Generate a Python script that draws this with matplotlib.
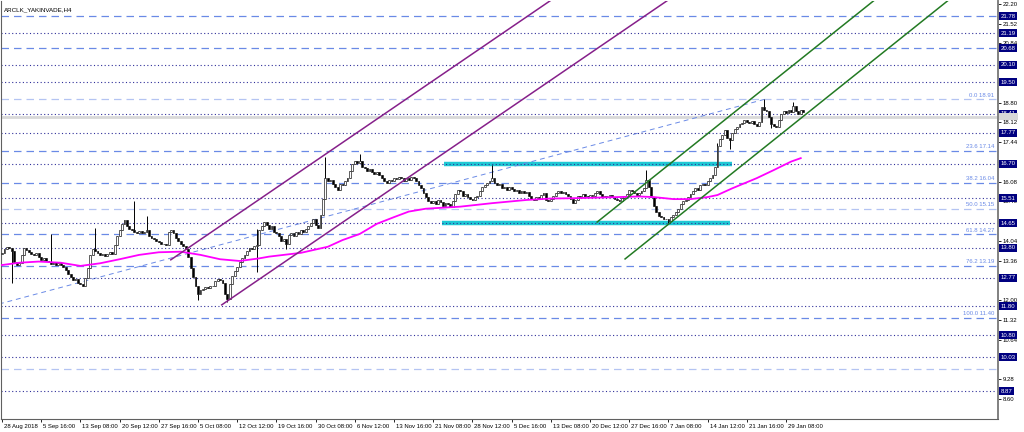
import matplotlib
matplotlib.use("Agg")
import matplotlib.pyplot as plt
from matplotlib.patches import Rectangle
from matplotlib.transforms import blended_transform_factory, ScaledTranslation

title = "ARCLK_YAKINVADE,H4"

# H4 closes, one per bar (bar 0 = 28 Aug 2018)
closes = [
    13.62, 13.75, 13.83, 13.78, 13.70, 13.30, 13.22, 13.28, 13.55, 13.80,
    13.72, 13.65, 13.60, 13.55, 13.62, 13.48, 13.40, 13.45, 13.35, 13.30,
    13.25, 13.30, 13.22, 13.28, 13.20, 13.15, 13.05, 12.90, 12.80, 12.70,
    12.72, 12.60, 12.55, 12.48, 12.75, 13.10, 13.55, 13.75, 13.70, 13.62,
    13.55, 13.60, 13.52, 13.58, 13.65, 13.60, 13.90, 14.20, 14.40, 14.62,
    14.75, 14.55, 14.45, 14.40, 14.35, 14.32, 14.38, 14.30, 14.36, 14.42,
    14.20, 14.15, 14.10, 14.05, 14.00, 13.95, 13.92, 13.90, 14.35, 14.40,
    14.32, 14.15, 14.05, 13.95, 13.85, 13.75, 13.50, 13.10, 12.80, 12.50,
    12.20, 12.35, 12.40, 12.45, 12.42, 12.50, 12.48, 12.65, 12.72, 12.68,
    12.60, 12.20, 12.05, 12.55, 12.85, 13.00, 13.15, 13.30, 13.45, 13.55,
    13.70, 13.80, 13.75, 13.85, 13.90, 14.40, 14.55, 14.70, 14.60, 14.45,
    14.55, 14.35, 14.30, 14.20, 14.05, 14.10, 13.95, 14.25, 14.30, 14.20,
    14.35, 14.28, 14.40, 14.35, 14.45, 14.55, 14.65, 14.80, 14.60, 14.50,
    14.95, 15.50, 16.20, 16.10, 16.15, 16.00, 15.90, 15.80, 16.00, 15.95,
    16.10, 16.20, 16.45, 16.70, 16.80, 16.72, 16.78, 16.60, 16.55, 16.45,
    16.50, 16.40, 16.35, 16.42, 16.30, 16.20, 16.10, 16.05, 16.15, 16.12,
    16.20, 16.18, 16.25, 16.20, 16.10, 16.22, 16.15, 16.25, 16.20, 16.10,
    15.95, 15.85, 15.70, 15.55, 15.40, 15.35, 15.40, 15.30, 15.45, 15.38,
    15.25, 15.35, 15.30, 15.22, 15.40, 15.65, 15.80, 15.75, 15.60, 15.65,
    15.55, 15.50, 15.45, 15.55, 15.60, 15.75, 15.90, 15.95, 16.05, 16.10,
    16.20, 16.05, 15.95, 16.00, 15.85, 15.90, 15.80, 15.88, 15.82, 15.75,
    15.78, 15.70, 15.75, 15.68, 15.72, 15.60, 15.50, 15.45, 15.55, 15.50,
    15.62, 15.70, 15.45, 15.40, 15.48, 15.60, 15.70, 15.75, 15.68, 15.72,
    15.65, 15.60, 15.50, 15.35, 15.45, 15.60, 15.55, 15.65, 15.60, 15.55,
    15.62, 15.58, 15.70, 15.75, 15.65, 15.55, 15.60, 15.58, 15.62, 15.55,
    15.50, 15.45, 15.40, 15.52, 15.58, 15.65, 15.80, 15.75, 15.70, 15.62,
    15.68, 15.75, 15.85, 16.15, 15.90, 15.55, 15.25, 15.05, 14.90, 14.85,
    14.80, 14.78, 14.72, 14.85, 14.95, 15.05, 15.15, 15.30, 15.40, 15.45,
    15.55, 15.65, 15.75, 15.85, 15.80, 15.95, 16.00, 15.98, 16.10, 16.20,
    16.30, 16.60, 17.30, 17.55, 17.70, 17.85, 17.60, 17.50, 17.75, 17.90,
    17.95, 18.05, 18.10, 18.20, 18.15, 18.10, 18.18, 18.05, 18.00, 18.12,
    18.65, 18.55, 18.50, 18.30, 18.05, 17.98, 17.95, 18.20, 18.40, 18.50,
    18.45, 18.55, 18.48, 18.70, 18.50, 18.42, 18.55, 18.48,
]
first_open = 13.58

# visible long wicks (bar -> price)
wick_high = {20: 14.28, 38: 14.50, 54: 15.40, 59: 14.90, 104: 14.45, 132: 16.93,
             146: 17.04, 200: 16.66, 263: 16.48, 292: 17.40, 311: 18.93, 323: 18.83}
wick_low = {4: 12.60, 80: 12.02, 92: 11.93, 104: 12.97, 116: 13.75, 272: 14.65,
            297: 17.20, 314: 17.92}

# magenta moving average, read at sample bars
ma_bar = [0, 7, 15, 24, 32, 40, 48, 56, 64, 73, 81, 89, 97, 105, 109, 122, 133,
          139, 146, 153, 160, 166, 173, 187, 200, 214, 224, 233, 247, 260, 266,
          274, 281, 288, 292, 298, 308, 315, 322, 326]
ma_val = [13.21, 13.29, 13.33, 13.29, 13.18, 13.27, 13.41, 13.56, 13.65, 13.67,
          13.56, 13.41, 13.35, 13.44, 13.50, 13.63, 13.84, 14.07, 14.28, 14.63,
          14.86, 15.05, 15.15, 15.22, 15.34, 15.45, 15.50, 15.51, 15.54, 15.57,
          15.55, 15.48, 15.48, 15.55, 15.62, 15.85, 16.20, 16.48, 16.77, 16.89]

date_labels = ["28 Aug 2018", "5 Sep 16:00", "13 Sep 08:00", "20 Sep 12:00",
               "27 Sep 16:00", "5 Oct 08:00", "12 Oct 12:00", "19 Oct 16:00",
               "30 Oct 08:00", "6 Nov 12:00", "13 Nov 16:00", "21 Nov 08:00",
               "28 Nov 12:00", "5 Dec 16:00", "13 Dec 08:00", "20 Dec 12:00",
               "27 Dec 16:00", "7 Jan 08:00", "14 Jan 12:00", "21 Jan 16:00",
               "29 Jan 08:00"]
bars_per_label = 16

price_ticks = [22.20, 21.52, 20.84, 20.16, 19.48, 18.80, 18.12, 17.44, 16.76,
               16.08, 15.40, 14.72, 14.04, 13.36, 12.68, 12.00, 11.32, 10.64,
               9.96, 9.28, 8.60]

# horizontal levels with price boxes
dotted_levels = [21.19, 20.10, 19.50, 18.41, 17.77, 16.70, 15.51, 14.65, 13.80,
                 12.77, 11.80, 10.80, 10.03, 8.87]
dashed_levels = [21.78, 20.68]
bid_level = 18.32

# fibonacci retracement
fib_pct = ["0.0", "23.6", "38.2", "50.0", "61.8", "76.2", "100.0"]
fib_price = [18.91, 17.14, 16.04, 15.15, 14.27, 13.19, 11.40]
fib_pale = [18.91, 15.15, 9.63]
fib_from = (-22, 11.40)
fib_to = (311, 18.91)

# channels: start bar, start price, slope per bar
purple_lines = [(68.9, 13.39), (89.7, 11.84)]
purple_slope = 0.0576
green_lines = [(242.9, 14.69), (254.3, 13.42)]
green_slope = 0.0675

# cyan zones (bar range, price)
zones = [(180.4, 298.0, 16.70), (179.5, 297.0, 14.65)]

navy = "#30309a"
fib_blue = "#6a8ae6"
pale_blue = "#b4c4f2"
plt.rcParams["font.family"] = ["Liberation Sans", "DejaVu Sans"]

fig = plt.figure(figsize=(10.24, 4.32), dpi=100)
ax = fig.add_axes([1 / 1024, 13 / 432, 997 / 1024, 418 / 432])
ax.set_xlim(-0.4, 406.5)
ax.set_ylim(7.91, 22.30)

# level lines
for v in fib_price:
    col = pale_blue if v in fib_pale else fib_blue
    ax.axhline(v, color=col, lw=0.9, ls=(0, (6, 4)), zorder=1)
ax.axhline(9.63, color=pale_blue, lw=0.9, ls=(0, (6, 4)), zorder=1)
for v in dashed_levels:
    ax.axhline(v, color=fib_blue, lw=0.9, ls=(0, (6, 4)), zorder=1)
ax.axhline(bid_level, color="#d8d8d8", lw=2.0, zorder=1)

for b0, b1, v in zones:
    ax.plot([b0, b1], [v, v], color="#1fc8d4", lw=3.2, solid_capstyle="butt", zorder=2)

for v in dotted_levels:
    ax.axhline(v, color=navy, lw=0.8, ls=(0, (1, 2.2)), zorder=2.1)

ax.plot([fib_from[0], fib_to[0]], [fib_from[1], fib_to[1]], color=fib_blue,
        lw=0.7, ls=(0, (5, 4)), zorder=2)

# channels
for b, p in purple_lines:
    ax.plot([b, b + 300], [p, p + 300 * purple_slope], color="#86208a", lw=1.1, zorder=4)
for b, p in green_lines:
    ax.plot([b, b + 300], [p, p + 300 * green_slope], color="#237a23", lw=1.1, zorder=4)

# candles
opens = [first_open] + closes[:-1]
for i, (o, c) in enumerate(zip(opens, closes)):
    hi = wick_high.get(i, max(o, c))
    lo = wick_low.get(i, min(o, c))
    ax.vlines(i, lo, hi, color="black", lw=0.7, zorder=3)
    face = "white" if c >= o else "black"
    ax.bar(i, c - o if c != o else 0.01, bottom=o, width=0.75, color=face,
           edgecolor="#202020", linewidth=0.5, zorder=3)

ax.plot(ma_bar, ma_val, color="#ff00ff", lw=1.3, zorder=3.5)

# fib labels
tr = blended_transform_factory(ax.transAxes, ax.transData)
for pct, v in zip(fib_pct, fib_price):
    ax.text(0.996, v + 0.05, f"{pct} {v:.2f}", transform=tr, ha="right", va="bottom",
            fontsize=4.3, color=fib_blue, zorder=5)

# price boxes on the right axis
box_levels = dotted_levels + dashed_levels
for v in box_levels:
    ax.text(1.0025, v, f"{v:.2f}", transform=tr, ha="left", va="center", fontsize=4.3,
            color="white", clip_on=False, zorder=6,
            bbox=dict(boxstyle="square,pad=0.25", fc="#000080", ec="none"))
# plain grey marker for the bid line (its label is not legible)
ax.add_patch(Rectangle((1.0015, bid_level - 0.13), 0.019, 0.26, transform=tr,
                       fc="#d8d8d8", ec="none", clip_on=False, zorder=6))

ax.text(0.003, 0.985, title, transform=ax.transAxes, ha="left", va="top",
        fontsize=4.5, color="black")

# axes; tick labels fully hidden under a price box are left blank
ax.yaxis.tick_right()
ax.set_yticks(price_ticks)
ax.set_yticklabels(["" if min(abs(v - b) for b in box_levels) < 0.065 else f"{v:.2f}"
                    for v in price_ticks])
ax.tick_params(axis="y", labelsize=4.3, length=2.5, pad=1, width=0.6)
ax.set_xticks([k * bars_per_label for k in range(len(date_labels))])
ax.set_xticklabels(date_labels)
ax.tick_params(axis="x", labelsize=4.3, length=2.5, pad=1, width=0.6)
shift = ScaledTranslation(2 / 100, 0, fig.dpi_scale_trans)
for lab in ax.get_xticklabels():
    lab.set_ha("left")
    lab.set_transform(lab.get_transform() + shift)

ax.spines["top"].set_visible(False)
ax.spines["right"].set_color("#808080")
ax.spines["right"].set_linewidth(1.4)
ax.spines["left"].set_color("#606060")
ax.spines["bottom"].set_color("#606060")
ax.spines["left"].set_linewidth(0.8)
ax.spines["bottom"].set_linewidth(0.8)

fig.savefig("out.png", dpi=100)
